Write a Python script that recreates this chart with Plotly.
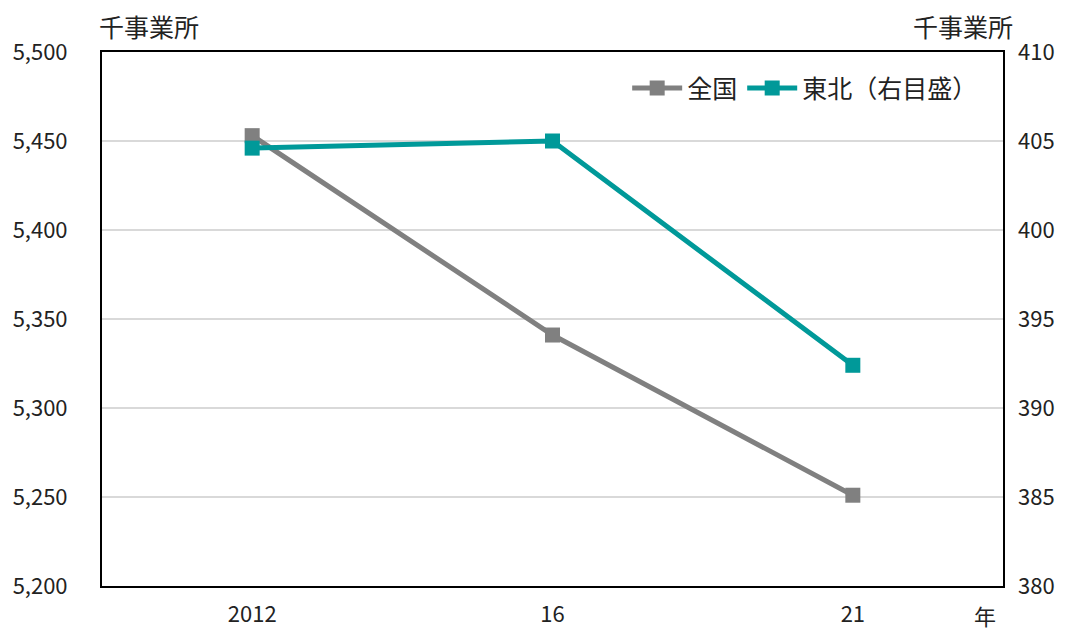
import plotly.graph_objects as go

years = ["2012", "16", "21"]
zenkoku = [5453, 5341, 5251]
tohoku = [404.6, 405.0, 392.4]

left_ticks = [5200, 5250, 5300, 5350, 5400, 5450, 5500]
left_labels = ["5,200", "5,250", "5,300", "5,350", "5,400", "5,450", "5,500"]
right_ticks = [380, 385, 390, 395, 400, 405, 410]

FONT = "Noto Sans CJK JP"
GREY = "#808080"
TEAL = "#009999"

fig = go.Figure()
fig.add_trace(go.Scatter(
    x=years, y=zenkoku, name="全国", mode="lines+markers",
    line=dict(color=GREY, width=5),
    marker=dict(symbol="square", size=15, color=GREY),
    yaxis="y",
))
fig.add_trace(go.Scatter(
    x=years, y=tohoku, name="東北（右目盛）", mode="lines+markers",
    line=dict(color=TEAL, width=5),
    marker=dict(symbol="square", size=15, color=TEAL),
    yaxis="y2",
))

fig.update_layout(
    width=1069, height=630,
    margin=dict(l=102, r=66, t=52, b=44),
    paper_bgcolor="white", plot_bgcolor="white",
    font=dict(family=FONT, size=22, color="#222222"),
    showlegend=True,
    legend=dict(orientation="h", x=0.978, xanchor="right", y=0.975, yanchor="top",
                font=dict(size=25), bgcolor="rgba(0,0,0,0)", itemwidth=50,
                tracegroupgap=0),
    xaxis=dict(
        type="category", range=[-0.5, 2.5], automargin=False,
        showline=True, linecolor="black", linewidth=2, mirror=True,
        showgrid=False, ticks="", ticklabelstandoff=8,
    ),
    yaxis=dict(
        range=[5200, 5500], tickvals=left_ticks, ticktext=left_labels,
        automargin=False,
        showline=True, linecolor="black", linewidth=2, mirror=True,
        showgrid=True, gridcolor="#d9d9d9", gridwidth=2,
        zeroline=False, ticks="", ticklabelstandoff=28,
    ),
    yaxis2=dict(
        range=[380, 410], tickvals=right_ticks, automargin=False,
        overlaying="y", side="right", showgrid=False, zeroline=False,
        showline=False, ticks="", ticklabelstandoff=14,
    ),
    annotations=[
        dict(text="千事業所", xref="paper", yref="paper", x=-0.006, y=1.0,
             xanchor="left", yanchor="bottom", yshift=6, showarrow=False,
             font=dict(size=25)),
        dict(text="千事業所", xref="paper", yref="paper", x=1.013, y=1.0,
             xanchor="right", yanchor="bottom", yshift=6, showarrow=False,
             font=dict(size=25)),
        dict(text="年", xref="paper", yref="paper", x=0.98, y=0,
             xanchor="center", yanchor="middle", yshift=-29, showarrow=False,
             font=dict(size=22)),
    ],
)

fig.write_html("out.html")
